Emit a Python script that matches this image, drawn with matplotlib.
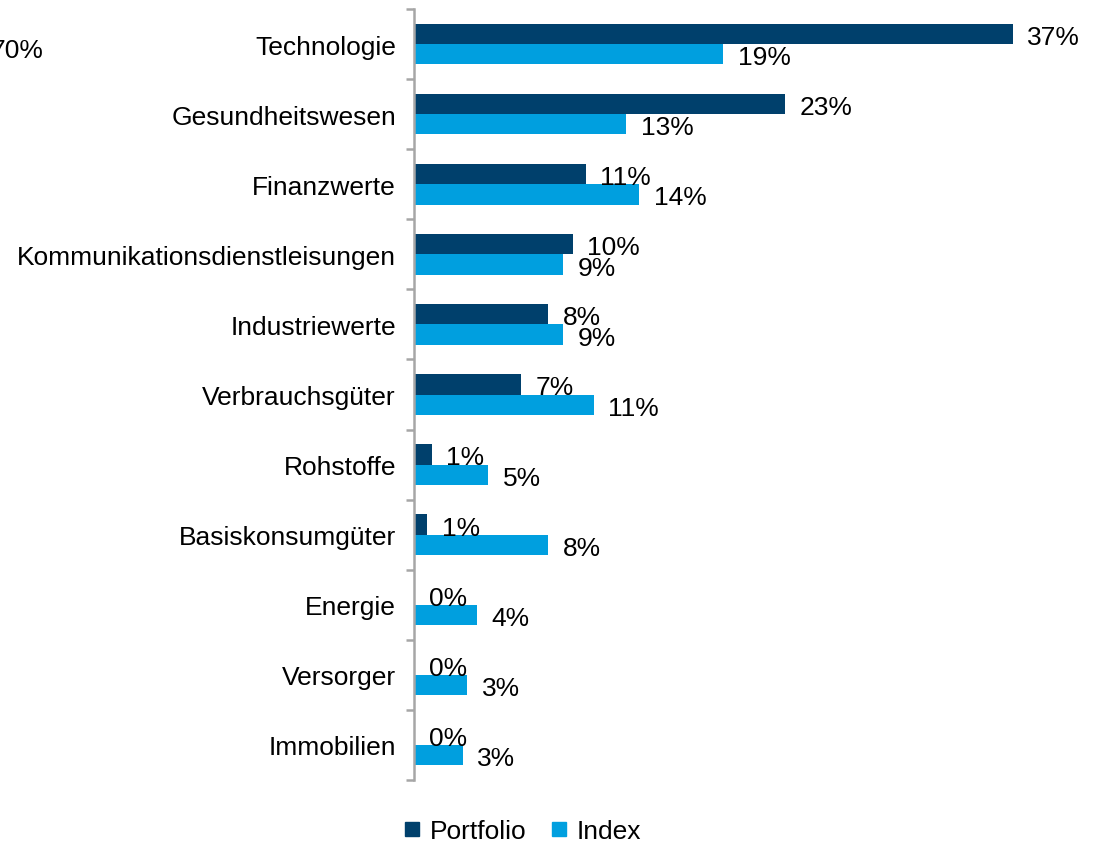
import matplotlib

matplotlib.use("Agg")

import matplotlib.pyplot as plt
import numpy as np
from matplotlib.lines import Line2D


SECTORS = [
    "Technologie",
    "Gesundheitswesen",
    "Finanzwerte",
    "Kommunikationsdienstleisungen",
    "Industriewerte",
    "Verbrauchsgüter",
    "Rohstoffe",
    "Basiskonsumgüter",
    "Energie",
    "Versorger",
    "Immobilien",
]
PORTFOLIO = [37.0, 22.9, 10.6, 9.8, 8.3, 6.6, 1.1, 0.8, 0.0, 0.0, 0.0]
INDEX = [19.1, 13.1, 13.9, 9.2, 9.2, 11.1, 4.6, 8.3, 3.9, 3.3, 3.0]
SERIES_NAMES = ["Portfolio", "Index"]

DARK = "#00406C"
LIGHT = "#009FDF"
GREY = "#A6A6A6"
FS = 19


def main():
    plt.rcParams["font.family"] = ["Liberation Sans", "DejaVu Sans"]

    fig = plt.figure(figsize=(10.97, 8.45), dpi=100, facecolor="white")
    ax = fig.add_axes([414 / 1097, 1 - 781 / 845, 1 - 414 / 1097, 771 / 845])

    y = np.arange(len(SECTORS))
    h = 0.29
    ax.barh(y - h / 2, PORTFOLIO, height=h, color=DARK)
    ax.barh(y + h / 2, INDEX, height=h, color=LIGHT)

    for yi, v in zip(y - h / 2, PORTFOLIO):
        ax.annotate(f"{v:.0f}%", (v, yi), xytext=(10.5, -2.2), textcoords="offset points",
                    ha="left", va="center", fontsize=FS, color="black")
    for yi, v in zip(y + h / 2, INDEX):
        ax.annotate(f"{v:.0f}%", (v, yi), xytext=(10.5, -2.2), textcoords="offset points",
                    ha="left", va="center", fontsize=FS, color="black")

    ax.set_xlim(0, 42.2)
    ax.set_ylim(len(SECTORS) - 0.5, -0.5)
    ax.set_xticks([])
    ax.set_yticks(y)
    ax.set_yticklabels(SECTORS, fontsize=FS)
    ax.tick_params(axis="y", which="major", length=0, pad=13)
    ax.set_yticks(np.arange(-0.5, len(SECTORS)), minor=True)
    ax.tick_params(axis="y", which="minor", length=6, width=1.8, color=GREY, direction="out")

    for side in ["top", "right", "bottom"]:
        ax.spines[side].set_visible(False)
    ax.spines["left"].set_color(GREY)
    ax.spines["left"].set_linewidth(1.8)

    # stray axis label visible at the left edge of the original
    fig.text(44 / 1097, 1 - 51 / 845, "70%", ha="right", va="center", fontsize=FS)

    handles = [
        Line2D([], [], linestyle="none", marker="s", markersize=9.5, color=DARK),
        Line2D([], [], linestyle="none", marker="s", markersize=9.5, color=LIGHT),
    ]
    fig.legend(handles, SERIES_NAMES, loc="center", ncol=2, frameon=False,
               bbox_to_anchor=(522 / 1097, 1 - 832 / 845), fontsize=FS,
               handlelength=0.7, handletextpad=0.3, columnspacing=0.9)

    fig.savefig("out.png", dpi=100, facecolor="white")


if __name__ == "__main__":
    main()
